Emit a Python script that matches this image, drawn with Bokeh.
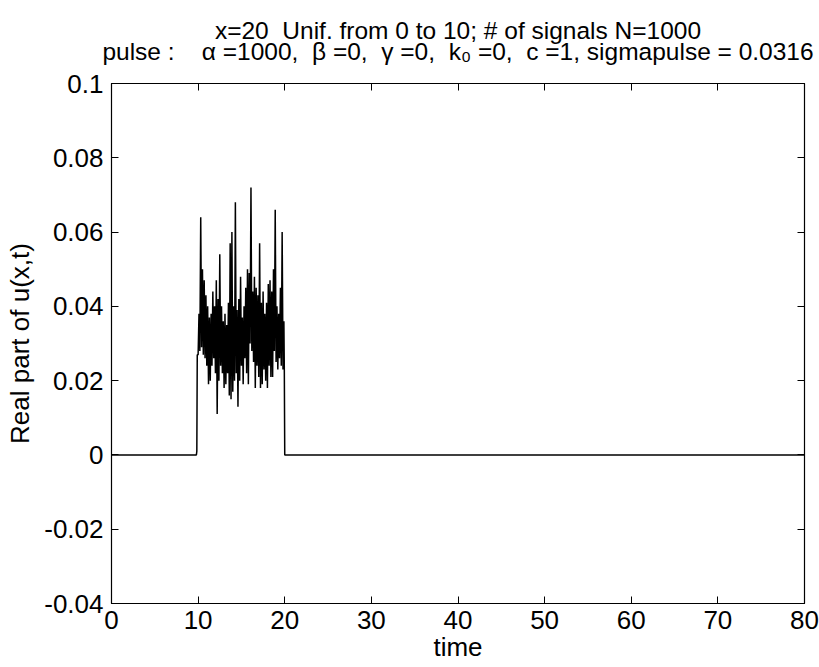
from bokeh.plotting import figure
from bokeh.models import (ColumnDataSource, FixedTicker, LinearAxis, Range1d,
                          CustomLabelingPolicy)
from bokeh.embed import file_html
from bokeh.resources import INLINE

NB = "\u00a0"

# ---------------- data ----------------
title_line1 = "x=20" + NB + " Unif. from 0 to 10; # of signals N=1000"
title_line2 = ("pulse :" + NB * 3 + " \u03b1 =1000," + NB + " \u03b2 =0," + NB +
               " \u03b3 =0," + NB + " k\u2080 =0," + NB + " c =1, sigmapulse = 0.0316")
x_label = "time"
y_label = "Real part of u(x,t)"

x_ticks = [0, 10, 20, 30, 40, 50, 60, 70, 80]
x_tick_labels = ["0", "10", "20", "30", "40", "50", "60", "70", "80"]
y_ticks = [-0.04, -0.02, 0, 0.02, 0.04, 0.06, 0.08, 0.1]
y_tick_labels = ["-0.04", "-0.02", "0", "0.02", "0.04", "0.06", "0.08", "0.1"]

# leading flat part and rise
t_rise = [0.0, 9.8, 9.85, 9.9]
u_rise = [0.0, 0.0, 0.001, 0.027]

# noisy pulse, sampled every 0.1 from t = 10.0 to 19.9
u_pulse = [
    0.027, 0.038, 0.028, 0.064, 0.029, 0.050, 0.027, 0.047, 0.026, 0.043,
    0.024, 0.040, 0.019, 0.037, 0.020, 0.038, 0.024, 0.044, 0.026, 0.040,
    0.022, 0.047, 0.011, 0.042, 0.020, 0.054, 0.024, 0.040, 0.022, 0.036,
    0.018, 0.038, 0.019, 0.035, 0.022, 0.041, 0.016, 0.057, 0.015, 0.060,
    0.017, 0.040, 0.020, 0.068, 0.022, 0.039, 0.013, 0.042, 0.020, 0.048,
    0.024, 0.037, 0.019, 0.040, 0.026, 0.045, 0.022, 0.050, 0.019, 0.049,
    0.030, 0.072, 0.028, 0.044, 0.025, 0.048, 0.018, 0.045, 0.024, 0.043,
    0.021, 0.057, 0.018, 0.041, 0.019, 0.044, 0.023, 0.038, 0.020, 0.041,
    0.018, 0.046, 0.024, 0.047, 0.021, 0.044, 0.021, 0.050, 0.028, 0.066,
    0.025, 0.040, 0.023, 0.038, 0.026, 0.045, 0.024, 0.060, 0.023, 0.036,
]
t_pulse = [round(10.0 + 0.1 * i, 2) for i in range(len(u_pulse))]

# fall and trailing flat part
t_fall = [19.95, 20.0, 80.0]
u_fall = [0.023, 0.0, 0.0]

t_all = t_rise + t_pulse + t_fall
u_all = u_rise + u_pulse + u_fall

# ---------------- figure ----------------
FONT = "Liberation Sans"
TICK_SIZE = "26px"

p = figure(width=819, height=667, output_backend="svg", toolbar_location=None,
           x_range=Range1d(0, 80), y_range=Range1d(-0.04, 0.1),
           min_border_left=111, min_border_right=15,
           min_border_top=83, min_border_bottom=64,
           background_fill_color="white", border_fill_color="white")

p.grid.visible = False
p.outline_line_color = "black"
p.outline_line_width = 1.2

src = ColumnDataSource(dict(t=t_all, u=u_all))
p.line("t", "u", source=src, line_color="black", line_width=1.5)


def style_axis(ax, ticks, labels):
    ax.ticker = FixedTicker(ticks=ticks)
    ax.major_label_overrides = {tk: lb for tk, lb in zip(ticks, labels)}
    ax.major_tick_in = 7
    ax.major_tick_out = 0
    ax.minor_tick_line_color = None
    ax.major_tick_line_color = "black"
    ax.axis_line_color = "black"
    ax.major_label_text_font = FONT
    ax.major_label_text_font_size = TICK_SIZE
    ax.major_label_text_color = "black"
    ax.axis_label_text_font = FONT
    ax.axis_label_text_font_size = TICK_SIZE
    ax.axis_label_text_font_style = "normal"
    ax.axis_label_text_color = "black"


style_axis(p.xaxis[0], x_ticks, x_tick_labels)
style_axis(p.yaxis[0], y_ticks, y_tick_labels)
p.xaxis[0].axis_label = x_label
p.yaxis[0].axis_label = y_label
p.xaxis[0].major_label_standoff = 7
p.xaxis[0].axis_label_standoff = 0
p.yaxis[0].major_label_standoff = 8
p.yaxis[0].axis_label_standoff = 6

no_labels = CustomLabelingPolicy(code="""
    for (const i of Array.from(indices)) { indices.unset(i) }
    return indices
""")
for loc, ticks in (("right", y_ticks), ("above", x_ticks)):
    ax = LinearAxis()
    ax.ticker = FixedTicker(ticks=ticks)
    ax.major_tick_in = 7
    ax.major_tick_out = 0
    ax.minor_tick_line_color = None
    ax.major_tick_line_color = "black"
    ax.axis_line_color = "black"
    ax.major_label_policy = no_labels
    ax.major_label_standoff = 0
    ax.major_label_text_font_size = "1px"
    p.add_layout(ax, loc)

# ---------------- two-line title ----------------
p.title.text = title_line1 + "\n" + title_line2
p.title.align = "center"
p.title.text_align = "center"
p.title.text_font = FONT
p.title.text_font_size = "24.5px"
p.title.text_font_style = "normal"
p.title.text_color = "black"
p.title.text_line_height = 0.8
p.title.standoff = 28

open("out.html", "w").write(file_html(p, INLINE))
